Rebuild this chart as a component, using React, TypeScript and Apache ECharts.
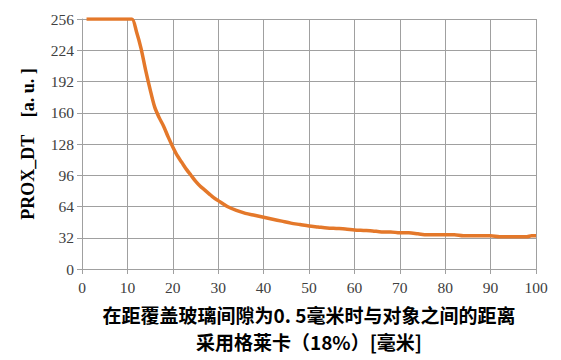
import React, { useEffect, useRef } from "react";
import * as echarts from "echarts";

const distances = [1, 2, 4, 6, 8, 10, 11, 12, 13, 14, 15, 16, 17, 18, 19, 20, 21, 22, 23, 24, 25, 26, 27, 28, 29, 30, 32, 34, 36, 38, 40, 42, 44, 46, 48, 50, 52, 54, 56, 58, 60, 62, 64, 66, 68, 70, 72, 74, 76, 78, 80, 82, 84, 86, 88, 90, 92, 94, 96, 98, 99, 100];
const proxValues = [256, 256, 256, 256, 256, 256, 256, 243, 226, 204, 184, 166, 155, 146, 135, 125, 116, 109, 102, 96, 90, 85, 81, 77, 73, 70, 64, 60, 57, 55, 53, 51, 49, 47, 45.5, 44, 43, 42, 41.5, 41, 40, 39.5, 39, 38, 38, 37, 37, 36, 35, 35, 35, 35, 34, 34, 34, 34, 33, 33, 33, 33, 34, 34];
const yTicks = [0, 32, 64, 96, 128, 160, 192, 224, 256];
const xTicks = [0, 10, 20, 30, 40, 50, 60, 70, 80, 90, 100];

export default function App() {
  const ref = useRef<HTMLDivElement>(null);
  useEffect(() => {
    if (!ref.current) return;
    const chart = echarts.init(ref.current, undefined, { renderer: "svg" });
    const labelStyle = { color: "#404040", fontFamily: "Liberation Serif", fontSize: 15.5 };
    chart.setOption({
      animation: false,
      backgroundColor: "#ffffff",
      grid: { left: 82, right: 25, top: 19, bottom: 86 },
      xAxis: {
        type: "value",
        min: xTicks[0],
        max: xTicks[xTicks.length - 1],
        interval: 10,
        name: "在距覆盖玻璃间隙为0. 5毫米时与对象之间的距离\n采用格莱卡（18%）[毫米]",
        nameLocation: "middle",
        nameGap: 32,
        nameTextStyle: { color: "#000", fontFamily: "Noto Sans CJK SC", fontWeight: "bold", fontSize: 19, lineHeight: 27 },
        axisLine: { show: true, lineStyle: { color: "#a0a0a0", width: 1 } },
        axisTick: { show: true, length: 5, lineStyle: { color: "#a0a0a0" } },
        axisLabel: { ...labelStyle, margin: 10 },
        splitLine: { show: true, lineStyle: { color: "#a0a0a0", width: 1 } },
      },
      yAxis: {
        type: "value",
        min: yTicks[0],
        max: yTicks[yTicks.length - 1],
        interval: 32,
        name: "PROX_DT    [a. u. ]",
        nameLocation: "middle",
        nameGap: 45,
        nameRotate: 90,
        nameTextStyle: { color: "#000", fontFamily: "Liberation Serif", fontWeight: "bold", fontSize: 18 },
        axisLine: { show: true, lineStyle: { color: "#a0a0a0", width: 1 } },
        axisTick: { show: true, length: 5, lineStyle: { color: "#a0a0a0" } },
        axisLabel: { ...labelStyle, margin: 8 },
        splitLine: { show: true, lineStyle: { color: "#a0a0a0", width: 1 } },
      },
      series: [
        {
          type: "line",
          data: distances.map((d, i) => [d, proxValues[i]]),
          showSymbol: false,
          smooth: 0.3,
          lineStyle: { color: "#E4782A", width: 3.5 },
          itemStyle: { color: "#E4782A" },
        },
      ],
    });
    return () => chart.dispose();
  }, []);
  return <div ref={ref} style={{ position: "fixed", left: 0, top: 0, width: 561, height: 360 }} />;
}
